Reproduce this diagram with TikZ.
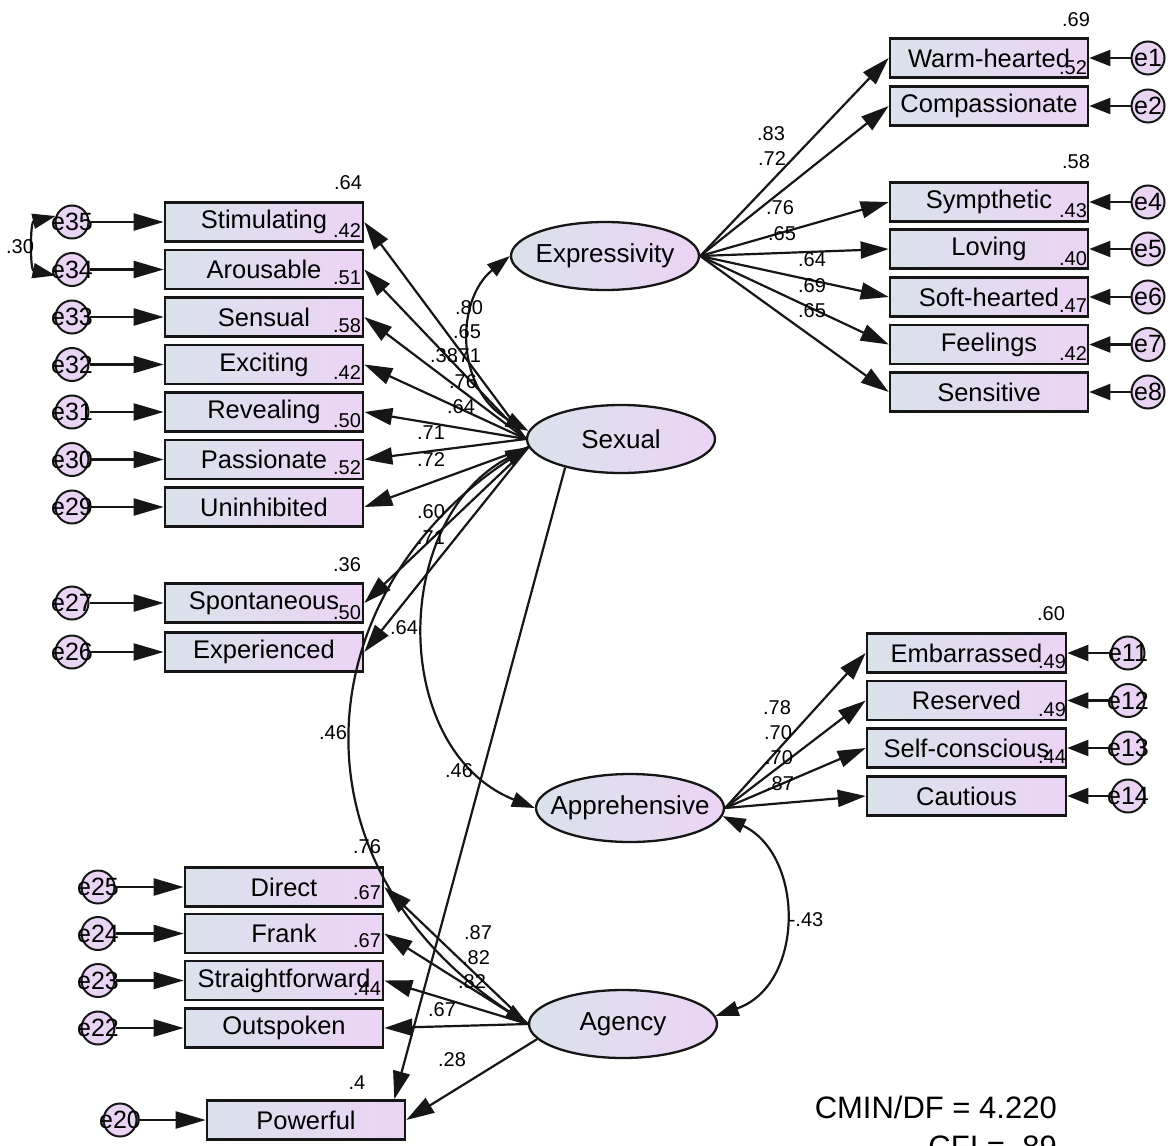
\documentclass[tikz,border=0pt]{standalone}
\usepackage{fontspec}
\setmainfont{Liberation Sans}
\usetikzlibrary{arrows.meta,shapes.geometric}
\definecolor{boxL}{RGB}{218,226,235}
\definecolor{boxR}{RGB}{236,212,245}
\definecolor{errfill}{RGB}{233,213,243}
\definecolor{ink}{RGB}{22,22,22}
\tikzset{
  obsbox/.style={draw=ink, line width=2.6pt, rectangle, minimum width=198pt, minimum height=39pt,
    inner sep=0pt, left color=boxL, right color=boxR, font=\fontsize{25.5}{28}\selectfont},
  latent/.style={draw=ink, line width=2.3pt, ellipse, minimum width=188pt, minimum height=68pt,
    inner sep=0pt, left color=boxL, right color=boxR},
  lattext/.style={font=\fontsize{26}{28}\selectfont, inner sep=0pt},
  errc/.style={draw=ink, line width=2pt, circle, minimum size=33pt, inner sep=0pt, fill=errfill},
  etext/.style={font=\fontsize{25}{28}\selectfont, inner sep=0pt},
  coef/.style={font=\fontsize{20}{22}\selectfont, inner sep=0pt},
  load/.style={draw=ink, line width=2.2pt, -{Triangle[length=28pt,width=17pt]}},
  errarr/.style={draw=ink, line width=2.2pt, -{Triangle[length=30pt,width=17pt]}},
  errarrR/.style={draw=ink, line width=2.2pt, -{Triangle[length=21pt,width=16pt]}},
  covar/.style={draw=ink, line width=2.2pt,
    {Triangle[length=23pt,width=15pt]}-{Triangle[length=23pt,width=15pt]}},
  fitstat/.style={font=\fontsize{31}{34}\selectfont, inner sep=0pt, anchor=base east},
}
\newcommand{\errnode}[3]{\node[errc] (#1) at (#2) {}; \node[etext] at (#1) {#3};}
\begin{document}
\begin{tikzpicture}[x=1pt,y=-1pt]
\fill[white] (0,0) rectangle (1174,1145);
\useasboundingbox (0,0) rectangle (1174,1145);

% ---------- latent factors ----------
\node[latent] (expr) at (605,256) {};  \node[lattext] at (expr) {Expressivity};
\node[latent] (sex)  at (621,439) {};  \node[lattext] at (sex) {Sexual};
\node[latent] (appr) at (630,808) {};  \node[lattext] at (appr) {Apprehensive};
\node[latent] (agen) at (623,1024) {}; \node[lattext] at (agen) {Agency};

% ---------- Sexual indicators ----------
\node[obsbox] (stim) at (264,222)   {Stimulating};
\node[obsbox] (arou) at (264,269.5) {Arousable};
\node[obsbox] (sens) at (264,317)   {Sensual};
\node[obsbox] (exci) at (264,364.5) {Exciting};
\node[obsbox] (reve) at (264,412)   {Revealing};
\node[obsbox] (pass) at (264,459.5) {Passionate};
\node[obsbox] (unin) at (264,507)   {Uninhibited};
\node[obsbox] (spon) at (264,603)   {Spontaneous};
\node[obsbox] (expe) at (264,652)   {Experienced};
\errnode{e35}{72,222}{e35}
\errnode{e34}{72,269.5}{e34}
\errnode{e33}{72,317}{e33}
\errnode{e32}{72,364.5}{e32}
\errnode{e31}{72,412}{e31}
\errnode{e30}{72,459.5}{e30}
\errnode{e29}{72,507}{e29}
\errnode{e27}{72,603}{e27}
\errnode{e26}{72,652}{e26}

% ---------- Expressivity indicators ----------
\node[obsbox] (warm)  at (989,58)    {Warm-hearted};
\node[obsbox] (comp)  at (989,106)   {Compassionate};
\node[obsbox] (symp)  at (989,202)   {Sympthetic};
\node[obsbox] (lovi)  at (989,249)   {Loving};
\node[obsbox] (soft)  at (989,297)   {Soft-hearted};
\node[obsbox] (feel)  at (989,344.5) {Feelings};
\node[obsbox] (sensi) at (989,392)   {Sensitive};
\errnode{e1}{1148,58}{e1}
\errnode{e2}{1148,106}{e2}
\errnode{e4}{1148,202}{e4}
\errnode{e5}{1148,249}{e5}
\errnode{e6}{1148,297}{e6}
\errnode{e7}{1148,344.5}{e7}
\errnode{e8}{1148,392}{e8}

% ---------- Apprehensive indicators ----------
\node[obsbox, minimum width=199pt] (emba)  at (966.5,653)   {Embarrassed};
\node[obsbox, minimum width=199pt] (rese)  at (966.5,700.5) {Reserved};
\node[obsbox, minimum width=199pt] (selfc) at (966.5,748)   {Self-conscious};
\node[obsbox, minimum width=199pt] (caut)  at (966.5,796)   {Cautious};
\errnode{e11}{1128,653}{e11}
\errnode{e12}{1128,700.5}{e12}
\errnode{e13}{1128,748}{e13}
\errnode{e14}{1128,796}{e14}

% ---------- Agency indicators ----------
\node[obsbox] (dire) at (284,887)    {Direct};
\node[obsbox] (fran) at (284,933.5)  {Frank};
\node[obsbox] (stra) at (284,980.5)  {Straightforward};
\node[obsbox] (outs) at (284,1028)   {Outspoken};
\node[obsbox] (powe) at (306,1120)   {Powerful};
\errnode{e25}{98,887}{e25}
\errnode{e24}{98,933.5}{e24}
\errnode{e23}{98,980.5}{e23}
\errnode{e22}{98,1028}{e22}
\errnode{e20}{120,1120}{e20}

% ---------- error paths ----------
\foreach \e/\b in {e35/stim,e34/arou,e33/sens,e32/exci,e31/reve,e30/pass,e29/unin,e27/spon,e26/expe,
                   e25/dire,e24/fran,e23/stra,e22/outs,e20/powe}
  \draw[errarr] (\e.east) -- (\b.west);
\foreach \e/\b in {e1/warm,e2/comp,e4/symp,e5/lovi,e6/soft,e7/feel,e8/sensi,
                   e11/emba,e12/rese,e13/selfc,e14/caut}
  \draw[errarrR] (\e.west) -- (\b.east);

% ---------- loadings ----------
\foreach \b in {stim,arou,sens,exci,reve,pass}
  \draw[load] (sex.west) -- (\b.east);
\foreach \b in {unin,spon,expe}
  \draw[load] (sex.185) -- (\b.east);
\foreach \b in {warm,comp,symp,lovi,soft,feel,sensi}
  \draw[load] (expr.east) -- (\b.west);
\foreach \b in {emba,rese,selfc,caut}
  \draw[load] (appr.east) -- (\b.west);
\foreach \b in {dire,fran,stra,outs}
  \draw[load] (agen.west) -- (\b.east);
\draw[load] (agen.190) -- (powe.east);
\draw[load] (sex.207) -- ([xshift=-12pt]powe.north east);

% ---------- covariances ----------
\draw[covar] (sex.175) .. controls (455,390) and (455,300) .. (expr.west);
\draw[covar] (sex.185) .. controls (390,520) and (390,750) .. (appr.west);
\draw[covar] (sex.185) .. controls (310,590) and (280,860) .. (agen.west);
\draw[covar] (appr.-5) .. controls (805,855) and (805,985) .. (agen.5);
\draw[covar] (e35.160) .. controls (30,222) and (30,270) .. (e34.200);

% ---------- estimates ----------
\foreach \p/\t in {{348,183}/.64,{347,231}/.42,{347,278}/.51,{347,326}/.58,{347,373}/.42,
                   {347,421}/.50,{347,468}/.52,{347,565}/.36,{347,613}/.50,
                   {367,847}/.76,{367,893}/.67,{367,941}/.67,{367,989}/.44,{357,1083}/.4,
                   {1076,20}/.69,{1073,68}/.52,{1076,162}/.58,{1073,211}/.43,{1073,259}/.40,
                   {1073,306}/.47,{1073,354}/.42,
                   {1051,614}/.60,{1052,662}/.49,{1052,710}/.49,{1052,757}/.44,
                   {469,308}/.80,{467,332}/.65,{444,356}/.38,{467,356}/.71,{463,382}/.76,
                   {461,407}/.64,{431,433}/.71,{431,460}/.72,{431,512}/.60,{431,538}/.71,
                   {404,628}/.64,{333,733}/.46,{459,771}/.46,
                   {771,134}/.83,{772,159}/.72,{780,208}/.76,{782,234}/.65,{812,260}/.64,
                   {812,286}/.69,{812,311}/.65,
                   {777,708}/.78,{778,733}/.70,{779,758}/.70,{780,784}/.87,
                   {478,933}/.87,{476,958}/.82,{472,982}/.82,{442,1010}/.67,{452,1060}/.28,
                   {806,920}/-.43,{20,247}/.30}
  \node[coef] at (\p) {\t};

% ---------- fit statistics ----------
\node[fitstat] (cmin) at (1057,1118) {CMIN/DF = 4.220};
\node[fitstat] (cfi)  at (1057,1157) {CFI = .89};
\end{tikzpicture}
\end{document}
